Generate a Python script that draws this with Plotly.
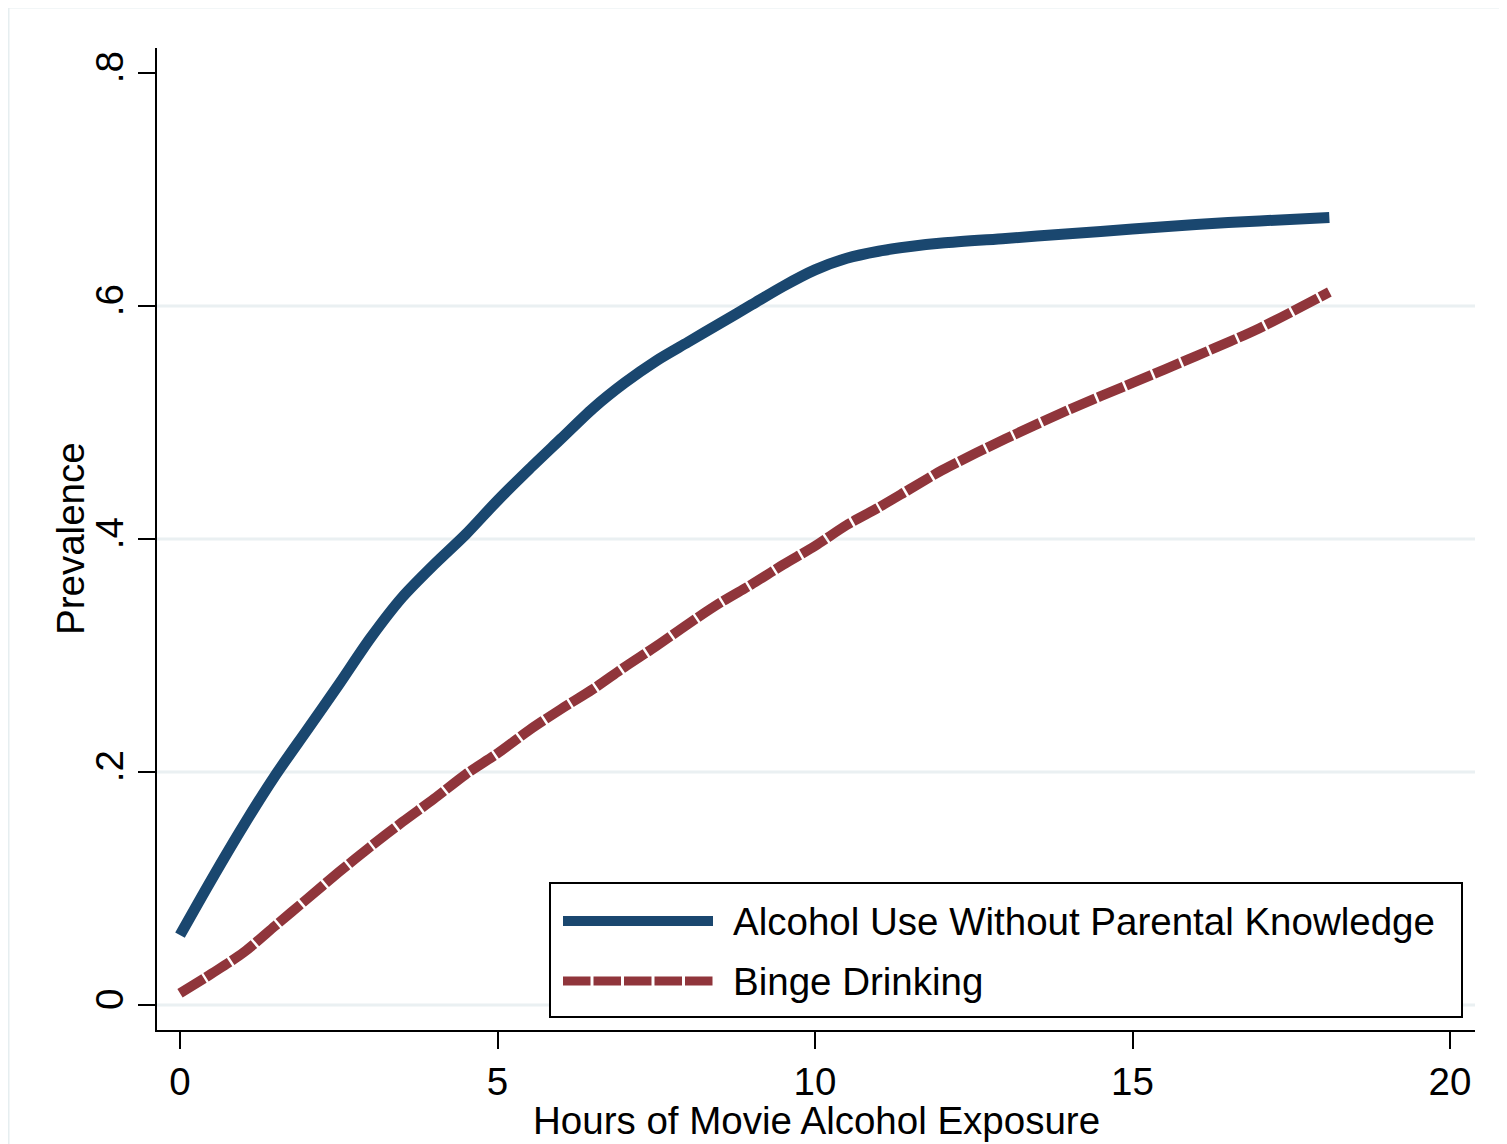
import plotly.graph_objects as go

# ---- data ----
hours = [0, 0.5, 1, 1.5, 2, 2.5, 3, 3.5, 4, 4.5, 5, 5.5, 6, 6.5, 7, 7.5, 8,
         8.5, 9, 9.5, 10, 10.5, 11, 11.5, 12, 13, 14, 15, 16, 17, 18.1]
alcohol_use = [0.060, 0.108, 0.154, 0.197, 0.236, 0.275, 0.315, 0.350, 0.378,
               0.404, 0.433, 0.460, 0.486, 0.512, 0.534, 0.553, 0.569, 0.585,
               0.601, 0.617, 0.631, 0.641, 0.647, 0.651, 0.654, 0.658, 0.662,
               0.666, 0.670, 0.673, 0.676]
binge = [0.010, 0.027, 0.045, 0.068, 0.091, 0.114, 0.136, 0.157, 0.177, 0.198,
         0.216, 0.236, 0.254, 0.271, 0.290, 0.308, 0.327, 0.345, 0.361, 0.378,
         0.394, 0.412, 0.427, 0.443, 0.459, 0.486, 0.511, 0.534, 0.557, 0.581,
         0.612]

series_names = ["Alcohol Use Without Parental Knowledge", "Binge Drinking"]
x_ticks = [0, 5, 10, 15, 20]
y_ticks = [0, 0.2, 0.4, 0.6, 0.8]
y_tick_labels = ["0", ".2", ".4", ".6", ".8"]
x_title = "Hours of Movie Alcohol Exposure"
y_title = "Prevalence"

# ---- style ----
BLUE = "#1A476F"
RED = "#90353B"
GRID = "#EAF0F2"
FONT = "Liberation Sans, Arial, sans-serif"
FS = 38.5
OFF = 8                       # page body margin
W, H = 1507 - OFF, 1144 - OFF
L, R, T, B = 157, 1475, 48, 1030  # plot area in screen px


def px(x):
    return (x - L) / (R - L)


def py(y):
    return (B - y) / (B - T)


fig = go.Figure()
fig.add_trace(go.Scatter(x=hours, y=alcohol_use, mode="lines",
                         name=series_names[0],
                         line=dict(color=BLUE, width=11, shape="spline",
                                   smoothing=0.8)))
fig.add_trace(go.Scatter(x=hours, y=binge, mode="lines",
                         name=series_names[1],
                         line=dict(color=RED, width=10, dash="28px,2.5px",
                                   shape="spline", smoothing=0.8)))

shapes = []
# gridlines (Stata omits the one at the top tick)
for g in y_ticks[:-1]:
    shapes.append(dict(type="line", xref="paper", yref="y", x0=0, x1=1,
                       y0=g, y1=g, line=dict(color=GRID, width=3), layer="below"))
# outer graph-region border
shapes.append(dict(type="rect", xref="paper", yref="paper",
                   x0=px(8.5), x1=px(1560), y0=py(1200), y1=py(7.5),
                   line=dict(color="#E6EEF0", width=2), layer="below"))
# legend box
shapes.append(dict(type="rect", xref="paper", yref="paper",
                   x0=px(550), x1=px(1462), y0=py(1017), y1=py(883),
                   line=dict(color="black", width=2), fillcolor="white"))
# legend samples
shapes.append(dict(type="line", xref="paper", yref="paper",
                   x0=px(563), x1=px(713), y0=py(921), y1=py(921),
                   line=dict(color=BLUE, width=10)))
shapes.append(dict(type="line", xref="paper", yref="paper",
                   x0=px(563), x1=px(713), y0=py(981), y1=py(981),
                   line=dict(color=RED, width=9, dash="27.5px,3px")))

annotations = [
    dict(text=series_names[0], xref="paper", yref="paper", x=px(731), y=py(921),
         xanchor="left", yanchor="middle", showarrow=False,
         font=dict(family=FONT, size=FS, color="black")),
    dict(text=series_names[1], xref="paper", yref="paper", x=px(731), y=py(981),
         xanchor="left", yanchor="middle", showarrow=False,
         font=dict(family=FONT, size=FS, color="black")),
    dict(text=x_title, xref="paper", yref="paper", x=0.5, y=py(1120),
         xanchor="center", yanchor="middle", showarrow=False,
         font=dict(family=FONT, size=FS, color="black")),
    dict(text=y_title, xref="paper", yref="paper", x=px(70), y=0.5,
         xanchor="center", yanchor="middle", showarrow=False, textangle=-90,
         font=dict(family=FONT, size=FS, color="black")),
]

x_per_px = 20 / (1450 - 180)
y_per_px = 0.8 / (1005 - 73)

fig.update_layout(
    width=W, height=H,
    margin=dict(l=L - OFF, r=(W + OFF) - R, t=T - OFF, b=(H + OFF) - B, pad=0),
    paper_bgcolor="white", plot_bgcolor="white",
    showlegend=False,
    shapes=shapes, annotations=annotations,
    font=dict(family=FONT, size=FS, color="black"),
    xaxis=dict(range=[-(180 - L) * x_per_px, (R - 180) * x_per_px],
               tickvals=x_ticks, ticks="outside", ticklen=17, tickwidth=2,
               tickcolor="black", showline=True, linecolor="black", linewidth=2,
               showgrid=False, zeroline=False,
               tickfont=dict(family=FONT, size=FS, color="black")),
    yaxis=dict(range=[-(B - 1005) * y_per_px, (1005 - T) * y_per_px],
               tickvals=y_ticks, ticktext=y_tick_labels, tickangle=-90,
               ticks="outside", ticklen=17, tickwidth=2, tickcolor="black",
               showline=True, linecolor="black", linewidth=2,
               showgrid=False, zeroline=False,
               tickfont=dict(family=FONT, size=FS, color="black")),
)

fig.write_html("out.html")
